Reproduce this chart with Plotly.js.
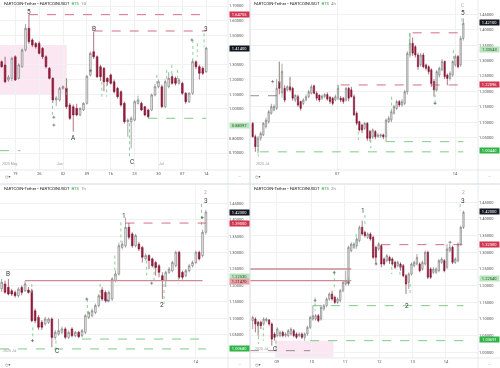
<!DOCTYPE html>
<html><head><meta charset="utf-8">
<script src="https://cdn.plot.ly/plotly-3.0.1.min.js"></script>
<style>html,body{margin:0;padding:0;background:#fff}#chart{width:500px;height:368px;will-change:transform}</style>
</head><body><div id="chart"></div>
<script>
// ---------- Panel 1 : daily ----------
const p1Open=[1.321,1.299,1.197,1.208,1.355,1.208,1.287,1.401,1.548,1.469,1.445,1.446,1.412,1.355,1.276,1.208,1.061,1.061,1.140,1.140,1.027,1.015,1.004,0.959,0.993,1.038,1.231,1.389,1.355,1.287,1.276,1.208,1.231,1.185,1.140,1.117,1.038,0.913,0.913,0.924,1.038,1.038,1.015,0.993,0.993,1.095,1.151,1.151,1.015,1.151,1.219,1.208,1.174,1.174,1.106,1.049,1.106,1.321,1.287,1.276,1.253];
const p1High=[1.330,1.355,1.230,1.355,1.365,1.310,1.410,1.578,1.641,1.480,1.455,1.460,1.420,1.365,1.285,1.215,1.090,1.150,1.160,1.208,1.040,1.030,1.035,1.010,1.045,1.230,1.390,1.525,1.365,1.300,1.285,1.215,1.240,1.200,1.150,1.125,1.050,0.935,0.950,1.060,1.090,1.050,1.020,1.000,1.105,1.170,1.200,1.165,1.200,1.250,1.235,1.220,1.210,1.185,1.115,1.115,1.335,1.330,1.300,1.290,1.420];
const p1Low=[1.280,1.175,1.185,1.190,1.190,1.200,1.280,1.390,1.440,1.420,1.410,1.370,1.340,1.275,1.200,1.040,1.020,1.050,1.130,1.000,0.925,0.845,0.950,0.950,0.985,1.030,1.220,1.340,1.210,1.190,1.120,1.160,1.165,1.105,1.070,1.015,0.900,0.811,0.732,0.915,1.030,0.985,0.950,0.936,0.985,1.085,1.140,1.005,1.005,1.140,1.165,1.160,1.165,1.095,1.035,1.040,1.095,1.270,1.200,1.230,1.245];
const p1Close=[1.287,1.185,1.215,1.344,1.197,1.299,1.401,1.548,1.457,1.435,1.423,1.378,1.355,1.287,1.208,1.061,1.075,1.140,1.151,1.015,0.936,0.959,0.959,1.004,1.038,1.222,1.378,1.355,1.219,1.219,1.185,1.185,1.174,1.117,1.083,1.027,0.913,0.924,0.936,1.049,1.061,0.993,0.959,0.947,1.095,1.151,1.185,1.015,1.185,1.208,1.174,1.174,1.197,1.106,1.049,1.106,1.321,1.287,1.242,1.242,1.414];
const p1TickIdx=[4,11,18,25,32,39,46,53,60];
const p1TickText=['19','26','02','09','16','23','30','07','14'];
const p1PriceTicks=[0.7,0.8,1.0,1.1,1.2,1.3,1.5,1.6,1.7];

// ---------- Panel 2 : 4h ----------
const p2Open=[1.0965,1.0532,1.021,1.048,1.059,1.086,1.102,1.129,1.140,1.145,1.232,1.195,1.210,1.205,1.215,1.210,1.172,1.183,1.167,1.161,1.172,1.183,1.194,1.218,1.194,1.188,1.178,1.183,1.190,1.181,1.178,1.172,1.178,1.178,1.178,1.172,1.210,1.205,1.183,1.129,1.102,1.091,1.080,1.097,1.070,1.053,1.070,1.053,1.055,1.059,1.053,1.102,1.107,1.129,1.145,1.167,1.156,1.161,1.199,1.318,1.356,1.345,1.318,1.286,1.318,1.286,1.280,1.270,1.232,1.205,1.253,1.270,1.297,1.253,1.242,1.253,1.286,1.313,1.286,1.372];
const p2High=[1.100,1.060,1.055,1.070,1.100,1.115,1.140,1.160,1.158,1.240,1.296,1.290,1.220,1.220,1.245,1.215,1.190,1.190,1.170,1.178,1.190,1.205,1.222,1.222,1.200,1.190,1.190,1.195,1.197,1.185,1.182,1.190,1.222,1.185,1.182,1.215,1.215,1.215,1.190,1.135,1.105,1.095,1.100,1.100,1.075,1.080,1.075,1.065,1.063,1.063,1.112,1.120,1.140,1.156,1.172,1.172,1.175,1.205,1.330,1.390,1.375,1.350,1.325,1.325,1.325,1.290,1.285,1.275,1.240,1.270,1.280,1.305,1.300,1.258,1.265,1.300,1.320,1.318,1.380,1.437];
const p2Low=[1.050,1.004,0.999,1.040,1.055,1.080,1.095,1.125,1.135,1.140,1.190,1.180,1.165,1.200,1.200,1.170,1.165,1.150,1.138,1.155,1.168,1.178,1.190,1.190,1.170,1.165,1.172,1.178,1.170,1.160,1.155,1.168,1.172,1.165,1.160,1.167,1.168,1.180,1.120,1.090,1.070,1.065,1.075,1.040,1.037,1.045,1.045,1.050,1.050,1.045,1.037,1.097,1.100,1.125,1.140,1.150,1.150,1.155,1.190,1.310,1.315,1.310,1.270,1.280,1.275,1.268,1.255,1.215,1.183,1.200,1.245,1.265,1.240,1.220,1.235,1.248,1.280,1.275,1.280,1.365];
const p2Close=[1.0532,1.0208,1.048,1.064,1.097,1.107,1.134,1.151,1.151,1.210,1.210,1.265,1.172,1.215,1.205,1.178,1.188,1.156,1.145,1.172,1.183,1.199,1.215,1.194,1.178,1.172,1.185,1.190,1.175,1.167,1.161,1.183,1.210,1.172,1.167,1.210,1.178,1.183,1.124,1.097,1.075,1.075,1.097,1.048,1.048,1.075,1.053,1.059,1.059,1.053,1.107,1.113,1.134,1.151,1.167,1.156,1.167,1.199,1.3235,1.356,1.324,1.318,1.280,1.318,1.280,1.275,1.264,1.226,1.205,1.264,1.275,1.297,1.248,1.242,1.259,1.297,1.313,1.280,1.372,1.421];
const p2TickIdx=[31.75,75.9];
const p2TickText=['07','14'];
const p2PriceTicks=[1.05,1.1,1.15,1.2,1.25,1.3,1.35,1.4,1.45];

// ---------- Panel 3 : 1h ----------
const p3Open=[1.190,1.2046,1.1944,1.184,1.179,1.169,1.194,1.184,1.186,1.184,1.123,1.103,1.088,1.083,1.088,1.098,1.042,1.0524,1.0575,1.0677,1.0423,1.0677,1.0474,1.0575,1.0474,1.0575,1.103,1.108,1.118,1.139,1.186,1.179,1.154,1.159,1.215,1.235,1.316,1.321,1.377,1.357,1.321,1.326,1.316,1.281,1.291,1.281,1.270,1.260,1.230,1.215,1.240,1.245,1.260,1.301,1.240,1.230,1.245,1.260,1.270,1.301,1.291,1.362];
const p3High=[1.220,1.215,1.220,1.190,1.185,1.195,1.200,1.215,1.195,1.190,1.130,1.110,1.095,1.105,1.102,1.103,1.065,1.098,1.075,1.073,1.063,1.073,1.062,1.062,1.068,1.113,1.123,1.130,1.145,1.175,1.195,1.185,1.185,1.225,1.245,1.330,1.335,1.407,1.390,1.362,1.357,1.332,1.320,1.297,1.295,1.285,1.275,1.265,1.240,1.245,1.256,1.275,1.306,1.306,1.245,1.250,1.266,1.276,1.306,1.306,1.370,1.430];
const p3Low=[1.180,1.175,1.170,1.168,1.163,1.163,1.170,1.180,1.175,1.088,1.085,1.065,1.065,1.078,1.083,1.012,1.035,1.047,1.052,1.037,1.037,1.042,1.042,1.040,1.042,1.052,1.098,1.103,1.113,1.133,1.153,1.148,1.148,1.153,1.210,1.230,1.310,1.315,1.340,1.315,1.316,1.305,1.270,1.276,1.250,1.255,1.230,1.225,1.159,1.195,1.235,1.240,1.255,1.220,1.218,1.225,1.240,1.255,1.265,1.276,1.285,1.355];
const p3Close=[1.210,1.1792,1.1741,1.174,1.169,1.189,1.179,1.205,1.179,1.093,1.093,1.073,1.073,1.098,1.098,1.042,1.0575,1.0626,1.0677,1.0423,1.0575,1.0474,1.0575,1.0443,1.0626,1.1082,1.118,1.123,1.139,1.169,1.159,1.154,1.179,1.220,1.235,1.321,1.326,1.377,1.347,1.321,1.352,1.311,1.286,1.291,1.276,1.260,1.255,1.240,1.215,1.240,1.250,1.270,1.301,1.225,1.225,1.245,1.260,1.270,1.301,1.281,1.362,1.423];
const p3TickIdx=[58];
const p3TickText=['14'];
const p3PriceTicks=[1.05,1.1,1.15,1.2,1.25,1.3,1.35,1.4,1.45];

// ---------- Panel 4 : 2h ----------
const p4Open=[1.095,1.100,1.090,1.090,1.085,1.095,1.097,1.085,1.055,1.050,1.050,1.060,1.050,1.050,1.055,1.065,1.055,1.050,1.055,1.045,1.055,1.075,1.100,1.100,1.110,1.100,1.130,1.140,1.160,1.175,1.165,1.150,1.155,1.185,1.205,1.205,1.305,1.315,1.320,1.335,1.375,1.360,1.345,1.355,1.345,1.315,1.310,1.320,1.280,1.275,1.285,1.280,1.270,1.260,1.265,1.260,1.230,1.210,1.235,1.260,1.265,1.265,1.250,1.265,1.300,1.250,1.240,1.240,1.245,1.270,1.275,1.255,1.305,1.315,1.270,1.275,1.325,1.375];
const p4High=[1.110,1.105,1.095,1.095,1.105,1.105,1.100,1.090,1.060,1.075,1.065,1.065,1.060,1.070,1.075,1.070,1.060,1.060,1.060,1.060,1.080,1.110,1.140,1.115,1.115,1.140,1.145,1.165,1.180,1.185,1.170,1.165,1.190,1.215,1.245,1.320,1.330,1.330,1.345,1.380,1.395,1.365,1.360,1.360,1.350,1.320,1.330,1.325,1.285,1.295,1.290,1.285,1.275,1.275,1.270,1.265,1.235,1.240,1.270,1.275,1.295,1.270,1.275,1.305,1.305,1.255,1.255,1.255,1.280,1.285,1.280,1.325,1.325,1.320,1.285,1.330,1.380,1.425];
const p4Low=[1.070,1.060,1.050,1.070,1.080,1.090,1.080,1.020,1.035,1.045,1.045,1.045,1.045,1.045,1.050,1.045,1.040,1.045,1.040,1.035,1.050,1.070,1.095,1.095,1.090,1.095,1.125,1.135,1.155,1.155,1.145,1.145,1.150,1.180,1.200,1.200,1.300,1.310,1.315,1.330,1.350,1.345,1.340,1.335,1.280,1.265,1.305,1.255,1.260,1.270,1.265,1.260,1.250,1.255,1.245,1.225,1.175,1.190,1.230,1.255,1.260,1.240,1.245,1.260,1.220,1.220,1.235,1.235,1.240,1.265,1.240,1.250,1.300,1.265,1.265,1.270,1.320,1.370];
const p4Close=[1.105,1.085,1.080,1.080,1.100,1.100,1.085,1.040,1.045,1.070,1.060,1.050,1.055,1.065,1.070,1.050,1.045,1.055,1.045,1.055,1.075,1.105,1.110,1.110,1.095,1.135,1.140,1.160,1.175,1.160,1.150,1.160,1.185,1.210,1.215,1.315,1.325,1.325,1.340,1.375,1.355,1.350,1.355,1.340,1.285,1.285,1.325,1.265,1.265,1.290,1.275,1.265,1.255,1.270,1.255,1.230,1.205,1.235,1.265,1.270,1.285,1.245,1.270,1.300,1.225,1.225,1.250,1.250,1.275,1.280,1.245,1.310,1.315,1.270,1.280,1.325,1.375,1.420];
const p4TickIdx=[8.8,21.6,33.7,46.2,58.5,70.6];
const p4TickText=['09','10','11','12','13','14'];
const p4PriceTicks=[1.0,1.05,1.1,1.15,1.2,1.25,1.3,1.35,1.4,1.45];

// ---------- level lines (price, from bar, to bar, kind) ----------
const p1LevelPrice=[1.641,1.530,0.936,0.716];
const p1LevelFrom=[8,27,43,-0.5];
const p1LevelTo=[60,60,60,5.5];
const p1LevelKind=['r','r','g','g'];
const p2LevelPrice=[1.390,1.221,1.186,1.037,1.004];
const p2LevelFrom=[60,33,-1,50,2.7];
const p2LevelTo=[78,79,9.5,79,79];
const p2LevelKind=['r','r','d','g','g'];
const p3LevelPrice=[1.390,1.215,1.037,1.007];
const p3LevelFrom=[37,7,24,-0.5];
const p3LevelTo=[61,60,61,61];
const p3LevelKind=['r','s','g','g'];
const p4LevelPrice=[1.323,1.140,1.035,1.005,1.250,1.215];
const p4LevelFrom=[47,22,21,-1,-1,-1];
const p4LevelTo=[77,77,77,21,36,36];
const p4LevelKind=['r','g','g','d','s','s'];

// ---------- green dotted indicator segments (bar, from price, to price) ----------
const p1DotIdx=[14.9,19.1,29.4,30.8,37.5,45.5,48.4,49.9,51.6,56.1,57.4,59.4];
const p1DotFrom=[1.061,1.197,1.185,1.174,0.902,1.231,1.265,1.299,1.265,1.469,1.446,1.514];
const p1DotTo=[0.959,1.083,1.061,1.083,0.675,1.151,1.185,1.219,1.197,1.321,1.355,1.423];
const p1CrossIdx=[15.3,15.3,26.1,55.8];
const p1CrossPrice=[0.943,0.890,1.260,1.469];
const p2DotIdx=[2.1,10,14,32.1,39.6,44.3,52.1,58.8,68.4,75.3,78.5];
const p2DotFrom=[1.0154,1.2965,1.2478,1.2208,1.0695,1.0424,1.183,1.388,1.210,1.334,1.437];
const p2DotTo=[0.9884,1.2262,1.2154,1.183,1.0424,1.0154,1.129,1.3235,1.161,1.291,1.415];
const p2CrossIdx=[7.5,68.4];
const p2CrossPrice=[1.232,1.161];
const p3DotIdx=[9,9.3,16.2,25.6,29.4,33.8,35.6,43.3,45.5,48.5,52.8,59.7];
const p3DotFrom=[1.2046,1.0727,1.032,1.159,1.2046,1.291,1.392,1.2756,1.260,1.2046,1.225,1.448];
const p3DotTo=[1.174,1.0321,1.002,1.113,1.164,1.220,1.331,1.220,1.215,1.144,1.205,1.377];
const p3CrossIdx=[9.2,25.4,44.8,59.9,31.5];
const p3CrossPrice=[1.032,1.159,1.207,1.407,1.154];
const p4DotIdx=[2.1,3.9,8.5,22.8,29.8,35,37.8,41,50.8,53.8,57.5,75.8];
const p4DotFrom=[1.085,1.075,1.035,1.165,1.240,1.225,1.355,1.412,1.275,1.260,1.205,1.445];
const p4DotTo=[1.025,1.035,1.005,1.125,1.185,1.205,1.305,1.385,1.235,1.225,1.175,1.425];
const p4CrossIdx=[22.8,29.8,45.1,72.1,35];
const p4CrossPrice=[1.155,1.240,1.265,1.330,1.210];

// ---------- price tags on the scale ----------
const p1TagText=['1.64755','1.41400','0.88397'];
const p1TagPrice=[1.639,1.414,0.886];
const p1TagKind=['red','black','lgreen'];
const p2TagText=['1.42100','1.33543','1.22096','1.00440'];
const p2TagPrice=[1.423,1.3365,1.2227,1.0068];
const p2TagKind=['black','lgreen','red','green'];
const p3TagText=['1.42300','1.39000','1.22530','1.21470','1.00680'];
const p3TagPrice=[1.4226,1.390,1.226,1.2135,1.0078];
const p3TagKind=['black','red','lgreen','pink','green'];
const p4TagText=['1.42000','1.32300','1.22540','1.03691'];
const p4TagPrice=[1.423,1.323,1.223,1.038];
const p4TagKind=['black','red','lgreen','green'];

// ---------- wave labels ----------
const p1WaveText=['5','B','A','C','3'];
const p1WaveIdx=[8,27.1,21,38.2,60];
const p1WavePrice=[1.662,1.544,0.800,0.641,1.541];
const p2WaveText=['5','C'];
const p2WaveIdx=[79,79];
const p2WavePrice=[1.455,1.480];
const p3WaveText=['B','C','1','2','3','2'];
const p3WaveIdx=[2,16.4,36.6,47.8,61,61];
const p3WavePrice=[1.235,1.002,1.410,1.142,1.456,1.483];
const p4WaveText=['1','2','3','2','C'];
const p4WaveIdx=[40.2,56.3,77,77,8.2];
const p4WavePrice=[1.425,1.140,1.455,1.480,1.010];

const W=500,H=368;
const FONT='Roboto, "DejaVu Sans", sans-serif';
const panels=[
 {O:p1Open,Hi:p1High,L:p1Low,C:p1Close,tv:p1TickIdx,tt:p1TickText,pt:p1PriceTicks,
  lp:p1LevelPrice,lf:p1LevelFrom,lt:p1LevelTo,lk:p1LevelKind,
  di:p1DotIdx,df:p1DotFrom,dt:p1DotTo,ci:p1CrossIdx,cp:p1CrossPrice,
  tg:p1TagText,tp:p1TagPrice,tk:p1TagKind,wt:p1WaveText,wi:p1WaveIdx,wp:p1WavePrice,
  left:0,top:0,bottom:170,xr:[-0.49,66.4],yr:[0.5844,1.7408],tf:'1D'},
 {O:p2Open,Hi:p2High,L:p2Low,C:p2Close,tv:p2TickIdx,tt:p2TickText,pt:p2PriceTicks,
  lp:p2LevelPrice,lf:p2LevelFrom,lt:p2LevelTo,lk:p2LevelKind,
  di:p2DotIdx,df:p2DotFrom,dt:p2DotTo,ci:p2CrossIdx,cp:p2CrossPrice,
  tg:p2TagText,tp:p2TagPrice,tk:p2TagKind,wt:p2WaveText,wi:p2WaveIdx,wp:p2WavePrice,
  left:250,top:0,bottom:170,xr:[-1,84.5],yr:[0.9451,1.4965],tf:'4h'},
 {O:p3Open,Hi:p3High,L:p3Low,C:p3Close,tv:p3TickIdx,tt:p3TickText,pt:p3PriceTicks,
  lp:p3LevelPrice,lf:p3LevelFrom,lt:p3LevelTo,lk:p3LevelKind,
  di:p3DotIdx,df:p3DotFrom,dt:p3DotTo,ci:p3CrossIdx,cp:p3CrossPrice,
  tg:p3TagText,tp:p3TagPrice,tk:p3TagKind,wt:p3WaveText,wi:p3WaveIdx,wp:p3WavePrice,
  left:0,top:185,bottom:358,xr:[-0.5,67.6],yr:[0.9794,1.5058],tf:'1h'},
 {O:p4Open,Hi:p4High,L:p4Low,C:p4Close,tv:p4TickIdx,tt:p4TickText,pt:p4PriceTicks,
  lp:p4LevelPrice,lf:p4LevelFrom,lt:p4LevelTo,lk:p4LevelKind,
  di:p4DotIdx,df:p4DotFrom,dt:p4DotTo,ci:p4CrossIdx,cp:p4CrossPrice,
  tg:p4TagText,tp:p4TagPrice,tk:p4TagKind,wt:p4WaveText,wi:p4WaveIdx,wp:p4WavePrice,
  left:250,top:185,bottom:358,xr:[-0.97,82.3],yr:[0.983,1.502],tf:'2h'}
];

const traces=[],shapes=[],annotations=[];
const layout={width:W,height:H,margin:{l:0,r:0,t:0,b:0},paper_bgcolor:'#fff',plot_bgcolor:'#fff',
  showlegend:false,font:{family:FONT,size:4,color:'#555'}};
const tagBg={red:'#d2344f',black:'#131722',lgreen:'#b9e4bd',green:'#2fb344',pink:'#e9a0a8'};
const tagFg={red:'#fff',black:'#fff',lgreen:'#1b5e20',green:'#fff',pink:'#5a1020'};
const lvlColor={r:'#c94a5e',g:'#5cbf6a',d:'#8a6a70',s:'#c98c96'};

panels.forEach((p,k)=>{
  const sfx=k?String(k+1):'';
  const xa='x'+sfx, ya='y'+sfx;
  const xd=[p.left/W,(p.left+228)/W];
  const yd=[1-p.bottom/H,1-p.top/H];
  const sx=[],sy=[];
  p.di.forEach((v,j)=>{sx.push(v,v,null);sy.push(p.df[j],p.dt[j],null);});
  traces.push({type:'scatter',mode:'lines',xaxis:xa,yaxis:ya,x:sx,y:sy,hoverinfo:'skip',
    line:{color:'#6cc878',width:0.8,dash:'dot'}});
  traces.push({type:'candlestick',xaxis:xa,yaxis:ya,x:p.O.map((_,i)=>i),
    open:p.O,high:p.Hi,low:p.L,close:p.C,whiskerwidth:0,hoverinfo:'skip',
    increasing:{line:{color:'#6e6e6e',width:0.6},fillcolor:'#f1f1f1'},
    decreasing:{line:{color:'#7a1430',width:0.6},fillcolor:'#9c1c3e'}});
  traces.push({type:'scatter',mode:'markers',xaxis:xa,yaxis:ya,x:p.ci,y:p.cp,hoverinfo:'skip',
    marker:{symbol:'cross-thin',size:2.2,line:{color:'#555',width:0.6}}});
  layout['xaxis'+sfx]={domain:xd,range:p.xr,anchor:ya,tickvals:p.tv,ticktext:p.tt,
    showgrid:true,gridcolor:'#f1f1f3',zeroline:false,showline:false,ticks:'',
    tickfont:{size:4,color:'#555'},rangeslider:{visible:false},fixedrange:true};
  layout['yaxis'+sfx]={domain:yd,range:p.yr,anchor:xa,side:'right',tickvals:p.pt,tickformat:'.5f',
    showgrid:true,gridcolor:'#f1f1f3',zeroline:false,showline:false,ticks:'',
    tickfont:{size:4,color:'#555'},fixedrange:true};
  p.lp.forEach((v,j)=>{
    const kd=p.lk[j];
    shapes.push({type:'line',xref:xa,yref:ya,x0:p.lf[j],x1:p.lt[j],y0:v,y1:v,
      line:{color:lvlColor[kd],width:kd==='s'?1.3:0.8,dash:kd==='s'?'solid':'dash'}});
  });
  p.tg.forEach((t,j)=>{
    annotations.push({xref:'paper',yref:ya,x:(p.left+228.5)/W,y:p.tp[j],xanchor:'left',yanchor:'middle',
      text:t,showarrow:false,bgcolor:tagBg[p.tk[j]],font:{size:4,color:tagFg[p.tk[j]]},
      width:19,height:5,borderpad:0});
  });
  p.wt.forEach((t,j)=>{
    const light=(k===1&&t==='C')||(t==='2'&&p.wp[j]>1.47);
    annotations.push({xref:xa,yref:ya,x:p.wi[j],y:p.wp[j],text:t,showarrow:false,
      font:{size:light?5:6.5,color:light?'#aaa':'#3a3a3a'}});
  });
  annotations.push({xref:'paper',yref:'paper',x:(p.left+2)/W,y:1-(p.top+3.5)/H,xanchor:'left',yanchor:'middle',
    text:'FARTCOIN-Tether • FARTCOINUSDT  <span style="color:#2e9e4a">BTS</span>  <span style="color:#888">'+p.tf+'</span>',
    showarrow:false,font:{size:4.2,color:'#222'}});
  annotations.push({xref:'paper',yref:'paper',x:(p.left+3)/W,y:1-(p.bottom+6)/H,xanchor:'left',yanchor:'middle',
    text:'◷▾',showarrow:false,font:{size:4,color:'#666'}});
  annotations.push({xref:'paper',yref:'paper',x:(p.left+239)/W,y:1-(p.bottom+6)/H,xanchor:'center',yanchor:'middle',
    text:'—',showarrow:false,font:{size:4,color:'#aaa'}});
  shapes.push({type:'line',xref:'paper',yref:'paper',x0:xd[1],x1:xd[1],y0:1-(p.top===0?184:368)/H,y1:1-p.top/H,line:{color:'#e1e3ea',width:0.8}});
  shapes.push({type:'line',xref:'paper',yref:'paper',x0:p.left/W,x1:(p.left+250)/W,y0:yd[0],y1:yd[0],line:{color:'#e1e3ea',width:0.8}});
});

[[0,'x','2025 May',2.4,164],[0,'x','Jun',17,164],[0,'x','Jul',47,164],
 [1,'x2','2025 Jul',4,164],[2,'x3','2025 Jul',2.5,355],[3,'x4','2025 Jul',3.5,353]].forEach(m=>{
  annotations.push({xref:m[1],yref:'paper',x:m[3],y:1-m[4]/H,text:m[2],showarrow:false,font:{size:3.5,color:'#999'}});
});

shapes.push({type:'rect',xref:'x',yref:'y',x0:-0.5,x1:19.1,y0:1.095,y1:1.435,fillcolor:'rgba(240,170,205,0.28)',line:{width:0},layer:'below'});
shapes.push({type:'rect',xref:'x4',yref:'y4',x0:8.2,x1:29.5,y0:0.985,y1:1.035,fillcolor:'rgba(240,170,205,0.28)',line:{width:0},layer:'below'});
shapes.push({type:'line',xref:'paper',yref:'paper',x0:0.5,x1:0.5,y0:0,y1:1,line:{color:'#d6d8de',width:1}});
shapes.push({type:'line',xref:'paper',yref:'paper',x0:0,x1:1,y0:0.5,y1:0.5,line:{color:'#d6d8de',width:1}});

layout.shapes=shapes;
layout.annotations=annotations;
Plotly.newPlot('chart',traces,layout,{displayModeBar:false,staticPlot:true});
</script></body></html>
